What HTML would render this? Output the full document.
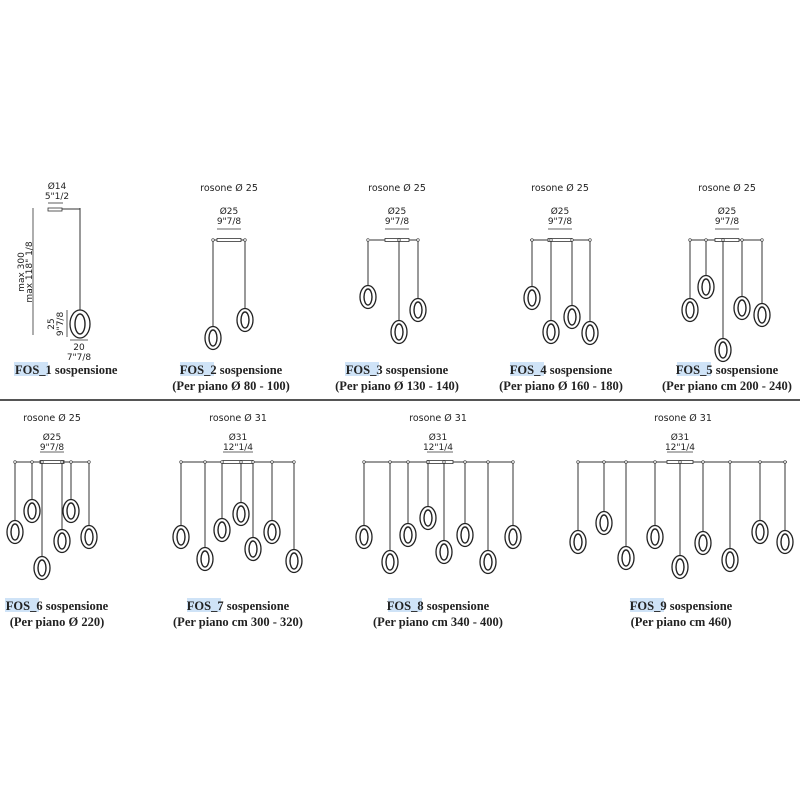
<!DOCTYPE html>
<html><head><meta charset="utf-8"><style>
html,body{margin:0;padding:0;background:#fff;}
svg{display:block}
.s{font-family:"DejaVu Sans","Liberation Sans",sans-serif;font-size:9px;fill:#222}
.r{font-size:9.5px}
.t{font-family:"Liberation Serif",serif;font-size:12.5px;font-weight:bold;fill:#222}
</style></head><body>
<svg id="g" width="800" height="800" viewBox="0 0 800 800" xmlns="http://www.w3.org/2000/svg">
<rect width="800" height="800" fill="#fff"/>
<line x1="0" y1="400" x2="800" y2="400" stroke="#555" stroke-width="2"/>
<g fill="#cfe3f7">
<rect x="14" y="362" width="34" height="14"/>
<rect x="180" y="362" width="34" height="14"/>
<rect x="345" y="362" width="34" height="14"/>
<rect x="510" y="362" width="34" height="14"/>
<rect x="677" y="362" width="34" height="14"/>
<rect x="5" y="598" width="34" height="14"/>
<rect x="187" y="598" width="34" height="14"/>
<rect x="388" y="598" width="34" height="14"/>
<rect x="630" y="598" width="34" height="14"/>
</g>
<!-- FOS_1 -->
<text class="s" x="57" y="189" text-anchor="middle">Ø14</text>
<text class="s" x="57" y="199" text-anchor="middle">5"1/2</text>
<line x1="48" y1="203" x2="63" y2="203" stroke="#333" stroke-width="0.8"/>
<rect x="48" y="208" width="14" height="3" fill="#fff" stroke="#333" stroke-width="0.8"/>
<line x1="62" y1="209" x2="80" y2="209" stroke="#333" stroke-width="1"/>
<line x1="80" y1="208" x2="80" y2="310" stroke="#333" stroke-width="1"/>
<line x1="33" y1="208" x2="33" y2="335" stroke="#333" stroke-width="0.8"/>
<text class="s" transform="translate(24,272) rotate(-90)" text-anchor="middle">max 300</text>
<text class="s" transform="translate(32,272) rotate(-90)" text-anchor="middle">max 118" 1/8</text>
<line x1="67" y1="310" x2="67" y2="337" stroke="#333" stroke-width="0.8"/>
<text class="s" transform="translate(54,324) rotate(-90)" text-anchor="middle">25</text>
<text class="s" transform="translate(63,324) rotate(-90)" text-anchor="middle">9"7/8</text>
<line x1="70" y1="340" x2="88" y2="340" stroke="#333" stroke-width="0.8"/>
<text class="s" x="79" y="350" text-anchor="middle">20</text>
<text class="s" x="79" y="360" text-anchor="middle">7"7/8</text>
<text class="t" x="15" y="374">FOS_1 sospensione</text>

<g class="s" text-anchor="middle">
<text class="r" x="229" y="191">rosone Ø 25</text>
<text class="r" x="397" y="191">rosone Ø 25</text>
<text class="r" x="560" y="191">rosone Ø 25</text>
<text class="r" x="727" y="191">rosone Ø 25</text>
<text x="229" y="214">Ø25</text><text x="229" y="224">9"7/8</text>
<text x="397" y="214">Ø25</text><text x="397" y="224">9"7/8</text>
<text x="560" y="214">Ø25</text><text x="560" y="224">9"7/8</text>
<text x="727" y="214">Ø25</text><text x="727" y="224">9"7/8</text>
<text class="r" x="52" y="421">rosone Ø 25</text>
<text class="r" x="238" y="421">rosone Ø 31</text>
<text class="r" x="438" y="421">rosone Ø 31</text>
<text class="r" x="683" y="421">rosone Ø 31</text>
<text x="52" y="440">Ø25</text><text x="52" y="450">9"7/8</text>
<text x="238" y="440">Ø31</text><text x="238" y="450">12"1/4</text>
<text x="438" y="440">Ø31</text><text x="438" y="450">12"1/4</text>
<text x="680" y="440">Ø31</text><text x="680" y="450">12"1/4</text>
</g>
<g class="t" text-anchor="middle">
<text x="231" y="374">FOS_2 sospensione</text><text x="231" y="390">(Per piano Ø 80 - 100)</text>
<text x="397" y="374">FOS_3 sospensione</text><text x="397" y="390">(Per piano Ø 130 - 140)</text>
<text x="561" y="374">FOS_4 sospensione</text><text x="561" y="390">(Per piano Ø 160 - 180)</text>
<text x="727" y="374">FOS_5 sospensione</text><text x="727" y="390">(Per piano cm 200 - 240)</text>
<text x="57" y="610">FOS_6 sospensione</text><text x="57" y="626">(Per piano Ø 220)</text>
<text x="238" y="610">FOS_7 sospensione</text><text x="238" y="626">(Per piano cm 300 - 320)</text>
<text x="438" y="610">FOS_8 sospensione</text><text x="438" y="626">(Per piano cm 340 - 400)</text>
<text x="681" y="610">FOS_9 sospensione</text><text x="681" y="626">(Per piano cm 460)</text>
</g>
<g id="dyn"></g>
</svg>
<script>
var NS="http://www.w3.org/2000/svg",d=document.getElementById("dyn");
function el(n,a){var e=document.createElementNS(NS,n);for(var k in a)e.setAttribute(k,a[k]);d.appendChild(e);return e;}
function group(cx,by,rw,x1,x2,ps,ty){
 el("line",{x1:cx-rw/2,y1:ty,x2:cx+rw/2,y2:ty,stroke:"#333","stroke-width":0.8});
 el("line",{x1:x1,y1:by,x2:x2,y2:by,stroke:"#333","stroke-width":1});
 el("rect",{x:cx-rw/2,y:by-1.5,width:rw,height:3,fill:"#fff",stroke:"#333","stroke-width":0.8});
 ps.forEach(function(p){
  el("line",{x1:p[0],y1:by,x2:p[0],y2:p[1]-11,stroke:"#333","stroke-width":1});
  el("circle",{cx:p[0],cy:by,r:1.3,fill:"#fff",stroke:"#333","stroke-width":0.6});
  el("ellipse",{cx:p[0],cy:p[1],rx:8,ry:11.5,fill:"#fff",stroke:"#222","stroke-width":1.3});
  el("ellipse",{cx:p[0],cy:p[1],rx:4,ry:8,fill:"none",stroke:"#222","stroke-width":1.4});
 });
}
el("ellipse",{cx:80,cy:324,rx:10,ry:14,fill:"#fff",stroke:"#222","stroke-width":1.3});
el("ellipse",{cx:80,cy:324,rx:5,ry:10,fill:"none",stroke:"#222","stroke-width":1.4});
group(229,240,24,213,245,[[213,338],[245,320]],229);
group(397,240,24,370,418,[[368,297],[399,332],[418,310]],229);
group(560,240,24,530,590,[[532,298],[551,332],[572,317],[590,333]],229);
group(727,240,24,690,763,[[690,310],[706,287],[723,350],[742,308],[762,315]],229);
group(52,462,24,16,90,[[15,532],[32,511],[42,568],[71,511],[62,541],[89,537]],452);
group(238,462,30,182,295,[[181,537],[205,559],[222,530],[241,514],[253,549],[272,532],[294,561]],452);
group(440,462,26,364,513,[[364,537],[390,562],[408,535],[428,518],[444,552],[465,535],[488,562],[513,537]],452);
group(680,462,26,578,787,[[578,542],[604,523],[626,558],[655,537],[680,567],[703,543],[730,560],[760,532],[785,542]],452);
</script>
</body></html>
